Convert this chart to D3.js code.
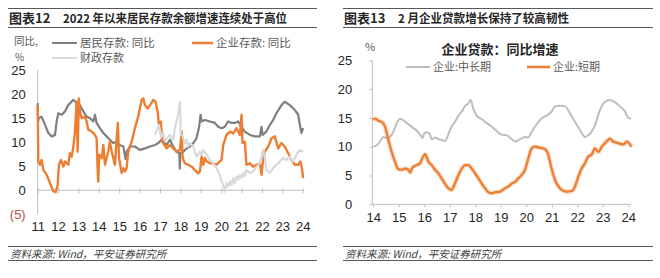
<!DOCTYPE html>
<html><head><meta charset="utf-8">
<script src="https://cdn.jsdelivr.net/npm/d3@7"></script>
<style>
html,body{margin:0;padding:0;background:#fff;}
svg{display:block;font-family:"Noto Sans CJK SC","Noto Sans",sans-serif;}
</style></head>
<body><svg id="c" width="660" height="278"></svg>
<script>
// ---------- data ----------
const leftYears = [11,12,13,14,15,16,17,18,19,20,21,22,23,24];
const leftYTicks = [-5,0,5,10,15,20,25];
const rightYears = [14,15,16,17,18,19,20,21,22,23,24];
const rightYTicks = [0,5,10,15,20,25];

// 居民存款: 同比 [year, %]
const householdDeposits = [[11.0,18.1],[11.02,14.3],[11.06,15.0],[11.19,15.3],[11.36,13.6],[11.52,11.9],[11.69,11.2],[11.85,11.5],[11.93,14.3],[12.01,16.0],[12.18,15.7],[12.34,16.4],[12.50,17.7],[12.75,18.8],[12.86,18.4],[12.96,17.0],[13.07,17.7],[13.24,16.4],[13.40,15.3],[13.56,15.0],[13.73,14.3],[13.81,15.7],[13.89,14.0],[14.05,12.9],[14.22,11.9],[14.38,11.2],[14.54,10.5],[14.71,9.8],[14.87,10.1],[15.03,9.4],[15.20,9.1],[15.31,6.5],[15.36,8.0],[15.52,9.1],[15.77,9.1],[16.01,8.4],[16.26,8.7],[16.51,9.1],[16.75,9.4],[16.91,9.8],[17.08,10.5],[17.32,9.4],[17.49,10.5],[17.65,9.1],[17.81,8.0],[17.95,7.7],[17.97,4.5],[17.99,7.7],[18.14,8.0],[18.30,8.7],[18.47,9.1],[18.63,9.8],[18.79,10.8],[18.92,13.2],[18.99,15.7],[19.04,14.3],[19.20,14.6],[19.45,14.3],[19.69,14.0],[19.85,13.2],[20.02,12.9],[20.18,13.2],[20.34,14.3],[20.51,14.0],[20.67,14.0],[20.83,14.3],[21.00,13.2],[21.16,12.2],[21.41,11.5],[21.65,11.2],[21.90,11.2],[21.98,13.2],[22.03,11.5],[22.22,12.2],[22.39,13.6],[22.55,14.6],[22.71,16.0],[22.96,17.7],[23.12,18.4],[23.37,17.7],[23.61,16.7],[23.78,15.7],[23.86,13.6],[23.94,11.9],[24.02,12.9]];

// 企业存款: 同比
const enterpriseDeposits = [[11.0,17.5],[11.03,6.0],[11.11,5.3],[11.19,6.3],[11.28,4.2],[11.44,3.2],[11.60,1.5],[11.77,-0.2],[11.88,-0.4],[11.98,1.1],[12.04,5.3],[12.14,6.3],[12.26,4.9],[12.34,6.0],[12.50,5.3],[12.58,7.7],[12.67,7.0],[12.75,9.1],[12.83,12.2],[12.91,18.4],[12.96,8.0],[13.02,19.1],[13.07,16.4],[13.16,15.0],[13.32,15.3],[13.40,14.3],[13.48,12.6],[13.65,12.2],[13.81,11.5],[13.89,10.8],[13.94,4.6],[13.97,1.8],[14.02,7.4],[14.14,6.7],[14.22,9.4],[14.30,5.3],[14.46,8.0],[14.54,10.1],[14.63,8.0],[14.79,5.3],[14.87,10.5],[14.93,14.0],[14.99,6.7],[15.12,3.6],[15.20,4.6],[15.28,3.9],[15.36,4.6],[15.44,8.0],[15.61,10.1],[15.77,12.9],[15.93,15.3],[16.10,18.8],[16.18,19.1],[16.26,17.7],[16.39,17.0],[16.51,17.7],[16.67,18.8],[16.78,18.4],[16.88,16.4],[16.95,13.6],[17.04,14.3],[17.11,10.1],[17.32,8.7],[17.49,9.4],[17.65,8.7],[17.81,8.0],[17.98,8.4],[18.06,12.2],[18.11,6.7],[18.22,5.6],[18.38,5.3],[18.55,4.9],[18.71,4.2],[18.87,3.5],[18.96,3.9],[19.04,7.0],[19.12,5.3],[19.20,6.7],[19.28,6.0],[19.45,5.6],[19.61,5.6],[19.77,5.3],[19.94,6.0],[20.02,6.3],[20.10,9.4],[20.26,11.5],[20.43,12.2],[20.59,11.8],[20.75,12.9],[20.92,11.5],[21.00,15.7],[21.05,9.8],[21.16,10.1],[21.24,5.3],[21.41,5.6],[21.57,4.9],[21.73,5.3],[21.90,5.6],[21.98,3.2],[22.03,5.3],[22.14,8.0],[22.31,9.1],[22.47,10.8],[22.63,11.2],[22.80,8.7],[22.96,9.8],[23.12,9.1],[23.29,7.7],[23.45,6.3],[23.61,5.3],[23.78,5.3],[23.89,6.0],[23.96,4.6],[24.02,2.5]];

// 财政存款
const fiscalDeposits = [[16.75,11.5],[16.85,12.5],[16.95,13.6],[17.05,11.0],[17.15,12.0],[17.25,10.2],[17.35,10.8],[17.49,11.5],[17.65,10.5],[17.73,12.9],[17.89,15.7],[17.98,18.4],[18.02,11.5],[18.11,11.2],[18.22,9.8],[18.30,10.5],[18.38,9.1],[18.47,9.8],[18.63,9.1],[18.71,8.0],[18.79,7.0],[18.87,7.4],[18.96,8.0],[19.04,7.4],[19.12,8.4],[19.28,7.4],[19.45,6.3],[19.61,5.6],[19.77,4.6],[19.94,3.2],[20.02,1.8],[20.10,1.1],[20.18,-0.3],[20.26,1.5],[20.34,0.8],[20.43,1.8],[20.51,1.1],[20.59,2.5],[20.67,1.5],[20.75,2.9],[20.83,2.2],[20.92,3.2],[21.00,2.5],[21.08,3.6],[21.16,2.9],[21.24,4.2],[21.41,3.6],[21.57,3.9],[21.73,4.9],[21.90,5.6],[22.06,8.4],[22.14,7.0],[22.22,4.2],[22.39,3.6],[22.55,4.6],[22.71,5.3],[22.88,6.0],[23.04,6.7],[23.20,6.3],[23.37,7.0],[23.53,6.0],[23.69,7.4],[23.86,8.4],[24.02,8.0]];

// 企业:中长期
const loansLong = [[14.0,10.0],[14.13,10.2],[14.26,10.9],[14.39,11.7],[14.52,11.5],[14.65,11.7],[14.79,12.6],[14.92,14.1],[15.05,14.8],[15.18,14.6],[15.31,14.1],[15.44,13.7],[15.57,13.2],[15.70,12.8],[15.83,12.1],[15.94,11.5],[15.99,12.3],[16.09,12.5],[16.20,12.3],[16.29,11.3],[16.42,11.6],[16.55,11.3],[16.68,11.2],[16.81,11.0],[16.94,12.1],[17.07,13.5],[17.20,14.3],[17.34,15.4],[17.47,16.1],[17.60,17.1],[17.73,17.5],[17.82,18.1],[17.92,16.6],[18.05,15.4],[18.25,14.8],[18.45,14.1],[18.64,13.5],[18.82,12.8],[19.03,12.1],[19.23,12.0],[19.43,11.3],[19.56,10.9],[19.75,11.3],[19.95,11.7],[20.08,11.6],[20.21,12.6],[20.41,13.9],[20.60,14.9],[20.80,15.4],[20.99,16.1],[21.13,17.0],[21.32,17.1],[21.52,17.0],[21.71,15.8],[21.91,14.3],[22.11,12.9],[22.30,11.7],[22.43,12.0],[22.56,12.6],[22.69,13.7],[22.89,16.4],[23.09,17.8],[23.28,18.1],[23.48,17.7],[23.68,17.0],[23.87,16.1],[24.00,15.0],[24.11,14.9]];

// 企业:短期
const loansShort = [[14.0,14.6],[14.07,14.9],[14.20,14.5],[14.33,14.3],[14.46,13.5],[14.59,11.2],[14.72,9.1],[14.85,7.4],[14.98,6.1],[15.11,6.0],[15.24,6.2],[15.37,6.0],[15.44,5.5],[15.54,6.4],[15.70,6.8],[15.83,7.1],[15.96,8.3],[16.03,8.7],[16.16,7.4],[16.29,6.8],[16.42,6.0],[16.55,5.4],[16.68,4.5],[16.81,3.6],[16.94,2.8],[17.07,2.5],[17.20,3.6],[17.34,5.1],[17.47,6.2],[17.60,6.8],[17.73,6.8],[17.86,6.2],[17.99,5.4],[18.12,4.5],[18.25,3.6],[18.38,2.8],[18.51,2.1],[18.64,1.9],[18.77,2.1],[18.97,2.2],[19.17,2.8],[19.30,3.1],[19.43,3.6],[19.56,3.9],[19.69,4.5],[19.82,5.1],[19.95,6.0],[20.08,8.0],[20.21,9.7],[20.34,10.0],[20.54,9.8],[20.73,9.6],[20.86,8.6],[20.99,6.2],[21.13,4.2],[21.26,3.1],[21.39,2.5],[21.58,2.2],[21.78,2.3],[21.91,3.1],[22.04,4.8],[22.17,6.2],[22.30,7.1],[22.43,8.3],[22.56,8.6],[22.69,9.7],[22.83,9.1],[22.96,10.0],[23.15,10.9],[23.28,11.4],[23.41,10.9],[23.61,10.6],[23.81,10.4],[23.94,10.9],[24.13,10.0]];

// ---------- drawing ----------
const svg = d3.select("#c");
const C_GRAY = "#7f7f7f", C_ORANGE = "#ed7d31", C_LIGHT = "#d9d9d9", C_LONG = "#bdbdbd";
const AXIS = "#bfbfbf", TXT = "#262626";

function header(x0, x1, num, text, textX, textW) {
  svg.append("line").attr("x1", x0).attr("x2", x1).attr("y1", 8.5).attr("y2", 8.5).attr("stroke", "#595959").attr("stroke-width", 1);
  svg.append("line").attr("x1", x0).attr("x2", x1).attr("y1", 27.5).attr("y2", 27.5).attr("stroke", "#595959").attr("stroke-width", 1);
  svg.append("text").attr("x", x0 + 1).attr("y", 23).attr("font-size", 13).attr("font-weight", "bold").attr("fill", TXT).text(num);
  svg.append("text").attr("x", textX).attr("y", 22.5).attr("font-size", 12).attr("font-weight", "bold").attr("fill", TXT)
    .attr("textLength", textW).attr("lengthAdjust", "spacingAndGlyphs").text(text);
  svg.append("line").attr("x1", x0).attr("x2", x1).attr("y1", 246.5).attr("y2", 246.5).attr("stroke", "#595959").attr("stroke-width", 1);
  svg.append("line").attr("x1", x0).attr("x2", x1).attr("y1", 260.5).attr("y2", 260.5).attr("stroke", "#595959").attr("stroke-width", 1);
  svg.append("text").attr("x", x0 + 2).attr("y", 257.5).attr("font-size", 10.5).attr("font-style", "italic").attr("fill", "#404040")
    .text("资料来源: Wind，平安证券研究所");
}
header(8, 317, "图表12", "2022 年以来居民存款余额增速连续处于高位", 63, 224);
header(343, 653, "图表13", "2 月企业贷款增长保持了较高韧性", 398, 171);

// ---- left chart ----
const xL = d3.scaleLinear().domain([11, 24]).range([37.7, 302.7]);
const yL = d3.scaleLinear().domain([-5, 25]).range([214.3, 70]);

const gL = svg.append("g");
gL.append("line").attr("x1", xL(11)).attr("x2", xL(11)).attr("y1", yL(25)).attr("y2", yL(-5)).attr("stroke", AXIS);
const yAxisL = d3.axisLeft(yL).tickValues(leftYTicks).tickSize(0).tickPadding(12)
  .tickFormat(d => d < 0 ? "(" + Math.abs(d) + ")" : d);
const yg = gL.append("g").attr("transform", `translate(${xL(11)},0)`).call(yAxisL);
yg.select(".domain").remove();
yg.selectAll("text").attr("font-size", 13).attr("fill", d => d < 0 ? "#c0504d" : TXT).attr("font-family", "Liberation Sans, Arial, sans-serif");
const xg0 = gL.append("g").attr("transform", `translate(0,${yL(0)})`)
  .call(d3.axisBottom(xL).tickValues(leftYears).tickSize(3).tickFormat(""));
xg0.select(".domain").attr("stroke", AXIS).attr("d", `M${xL(11)},0H${xL(24) + 1}`);
xg0.selectAll(".tick line").attr("stroke", AXIS).attr("y1", -2);
const xgL = gL.append("g").attr("transform", `translate(0,222)`)
  .call(d3.axisBottom(xL).tickValues(leftYears).tickSize(0).tickPadding(0).tickFormat(d => d));
xgL.select(".domain").remove();
xgL.selectAll("text").attr("font-size", 13).attr("fill", TXT).attr("font-family", "Liberation Sans, Arial, sans-serif");

const lineL = d3.line().x(d => xL(d[0])).y(d => yL(d[1]));
gL.append("path").datum(householdDeposits).attr("d", lineL).attr("fill", "none").attr("stroke", C_GRAY).attr("stroke-width", 2.2).attr("stroke-linejoin", "round");
gL.append("path").datum(enterpriseDeposits).attr("d", lineL).attr("fill", "none").attr("stroke", C_ORANGE).attr("stroke-width", 2.4).attr("stroke-linejoin", "round");
gL.append("path").datum(fiscalDeposits).attr("d", lineL).attr("fill", "none").attr("stroke", C_LIGHT).attr("stroke-width", 2.2).attr("stroke-linejoin", "round");

// left legend
const LG = "#595959";
svg.append("text").attr("x", 14).attr("y", 45).attr("font-size", 10.5).attr("fill", LG).text("同比,");
svg.append("text").attr("x", 15).attr("y", 61).attr("font-size", 10).attr("fill", LG).text("%");
function legItem(x1, x2, y, color, label, w, fs) {
  svg.append("line").attr("x1", x1).attr("x2", x2).attr("y1", y).attr("y2", y).attr("stroke", color).attr("stroke-width", w);
  svg.append("text").attr("x", x2 + 3).attr("y", y + 4).attr("font-size", fs || 11).attr("fill", LG).text(label);
}
legItem(52, 77, 43, C_GRAY, "居民存款: 同比", 2, 11.5);
legItem(192, 213, 43, C_ORANGE, "企业存款: 同比", 2.5, 11.5);
legItem(52, 77, 58, C_LIGHT, "财政存款", 2, 11);

// ---- right chart ----
const xR = d3.scaleLinear().domain([14, 24]).range([373.3, 628.3]);
const yR = d3.scaleLinear().domain([0, 25]).range([204.3, 60.3]);
const gR = svg.append("g");
const ygR = gR.append("g").attr("transform", `translate(${xR(14) - 1},0)`)
  .call(d3.axisLeft(yR).tickValues(rightYTicks).tickSize(3).tickPadding(17));
ygR.select(".domain").attr("stroke", AXIS).attr("d", `M0,${yR(25)}V${yR(0)}`);
ygR.selectAll(".tick line").attr("stroke", AXIS);
ygR.selectAll("text").attr("font-size", 13).attr("fill", TXT).attr("font-family", "Liberation Sans, Arial, sans-serif");
const xgR = gR.append("g").attr("transform", `translate(0,${yR(0)})`)
  .call(d3.axisBottom(xR).tickValues(rightYears).tickSize(3).tickPadding(5));
xgR.select(".domain").attr("stroke", AXIS).attr("d", `M${xR(14) - 1},0H${xR(24) + 3}`);
xgR.selectAll(".tick line").attr("stroke", AXIS);
xgR.selectAll("text").attr("font-size", 13).attr("fill", TXT).attr("font-family", "Liberation Sans, Arial, sans-serif");

const lineR = d3.line().x(d => xR(d[0])).y(d => yR(d[1])).curve(d3.curveMonotoneX);
gR.append("path").datum(loansLong).attr("d", lineR).attr("fill", "none").attr("stroke", C_LONG).attr("stroke-width", 2);
gR.append("path").datum(loansShort).attr("d", lineR).attr("fill", "none").attr("stroke", C_ORANGE).attr("stroke-opacity", 0.3).attr("stroke-width", 4.5);
gR.append("path").datum(loansShort).attr("d", lineR).attr("fill", "none").attr("stroke", C_ORANGE).attr("stroke-width", 2.2);

svg.append("text").attr("x", 370).attr("y", 51).attr("font-size", 11).attr("fill", LG).attr("text-anchor", "middle").text("%");
svg.append("text").attr("x", 500).attr("y", 54).attr("font-size", 13).attr("font-weight", "bold").attr("fill", TXT).attr("text-anchor", "middle").text("企业贷款：同比增速");
legItem(406, 430, 67, C_LONG, "企业:中长期", 2, 11);
legItem(527, 550, 67, C_ORANGE, "企业:短期", 2.5, 11);
</script></body></html>
